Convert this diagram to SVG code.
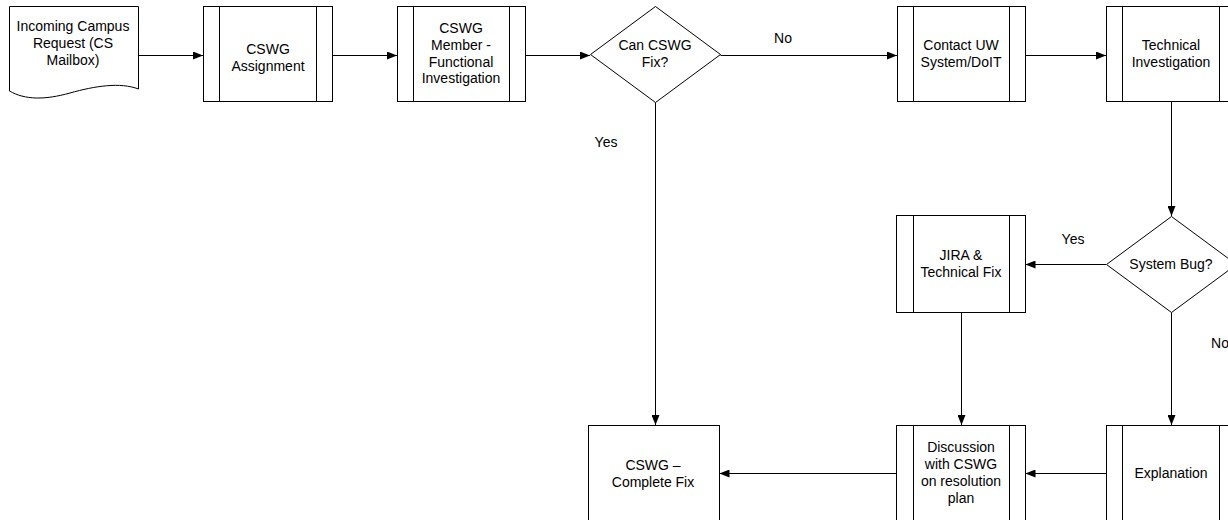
<svg xmlns="http://www.w3.org/2000/svg" width="1228" height="520" viewBox="0 0 1228 520">
<style>
.s{fill:#fff;stroke:#000;stroke-width:1}
.l{fill:none;stroke:#000;stroke-width:1}
text{font-family:"Liberation Sans",Arial,sans-serif;font-size:14px;fill:#000;text-anchor:middle}
.c{stroke:#000;stroke-width:1;fill:none;marker-end:url(#a)}
</style>
<defs>
<marker id="a" viewBox="0 0 10 8" refX="10" refY="4" markerWidth="10" markerHeight="8" markerUnits="userSpaceOnUse" orient="auto">
<path d="M0,0 L10,4 L0,8 Z" fill="#000"/>
</marker>
</defs>
<rect width="1228" height="520" fill="#fff"/>
<g id="connectors">
<path class="c" d="M138.5,55.5 H203"/>
<path class="c" d="M332.5,55.5 H397"/>
<path class="c" d="M525.5,55.5 H590"/>
<path class="c" d="M720.5,55.5 H897"/>
<path class="c" d="M1025.5,55.5 H1106"/>
<path class="c" d="M1171.5,101.5 V216"/>
<path class="c" d="M1106,264.5 H1025.5"/>
<path class="c" d="M1171.5,312.5 V425"/>
<path class="c" d="M961.5,312.5 V425"/>
<path class="c" d="M655.5,102.5 V425"/>
<path class="c" d="M1106,473.5 H1025.5"/>
<path class="c" d="M897,473.5 H719.5"/>
<text x="783" y="43">No</text>
<text x="606" y="147">Yes</text>
<text x="1073" y="244">Yes</text>
<text x="1220" y="348">No</text>
</g>
<g id="n1">
<path class="s" d="M9.5,6.5 H138.5 V89 C120,82 95,86 70,93 C45,100 25,100 9.5,91 Z"/>
<text x="73" y="31">Incoming Campus</text>
<text x="73" y="48">Request (CS</text>
<text x="73" y="65">Mailbox)</text>
</g>
<g id="n2">
<rect class="s" x="203.5" y="6.5" width="129" height="95"/>
<path class="l" d="M219.5,6.5 V101.5 M316.5,6.5 V101.5"/>
<text x="268" y="54">CSWG</text>
<text x="268" y="71">Assignment</text>
</g>
<g id="n3">
<rect class="s" x="397.5" y="6.5" width="128" height="95"/>
<path class="l" d="M413.5,6.5 V101.5 M509.5,6.5 V101.5"/>
<text x="461" y="33">CSWG</text>
<text x="461" y="50">Member -</text>
<text x="461" y="67">Functional</text>
<text x="461" y="83">Investigation</text>
</g>
<g id="n4">
<path class="s" d="M655.5,6.5 L720.5,54.5 L655.5,102.5 L590.5,54.5 Z"/>
<text x="655" y="50">Can CSWG</text>
<text x="655" y="67">Fix?</text>
</g>
<g id="n5">
<rect class="s" x="897.5" y="6.5" width="128" height="95"/>
<path class="l" d="M913.5,6.5 V101.5 M1009.5,6.5 V101.5"/>
<text x="961" y="50">Contact UW</text>
<text x="961" y="67">System/DoIT</text>
</g>
<g id="n6">
<rect class="s" x="1106.5" y="6.5" width="129" height="95"/>
<path class="l" d="M1122.5,6.5 V101.5 M1219.5,6.5 V101.5"/>
<text x="1171" y="50">Technical</text>
<text x="1171" y="67">Investigation</text>
</g>
<g id="n7">
<path class="s" d="M1171.5,216.5 L1236.5,264.5 L1171.5,312.5 L1106.5,264.5 Z"/>
<text x="1171" y="269">System Bug?</text>
</g>
<g id="n8">
<rect class="s" x="896.5" y="215.5" width="129" height="97"/>
<path class="l" d="M913.5,215.5 V312.5 M1009.5,215.5 V312.5"/>
<text x="961" y="260">JIRA &amp;</text>
<text x="961" y="277">Technical Fix</text>
</g>
<g id="n9">
<rect class="s" x="588.5" y="425.5" width="131" height="100"/>
<text x="653" y="470">CSWG –</text>
<text x="653" y="487">Complete Fix</text>
</g>
<g id="n10">
<rect class="s" x="896.5" y="425.5" width="129" height="100"/>
<path class="l" d="M913.5,425.5 V525 M1009.5,425.5 V525"/>
<text x="961" y="452">Discussion</text>
<text x="961" y="469">with CSWG</text>
<text x="961" y="486">on resolution</text>
<text x="961" y="503">plan</text>
</g>
<g id="n11">
<rect class="s" x="1106.5" y="425.5" width="129" height="100"/>
<path class="l" d="M1122.5,425.5 V525 M1219.5,425.5 V525"/>
<text x="1171" y="478">Explanation</text>
</g>
</svg>
